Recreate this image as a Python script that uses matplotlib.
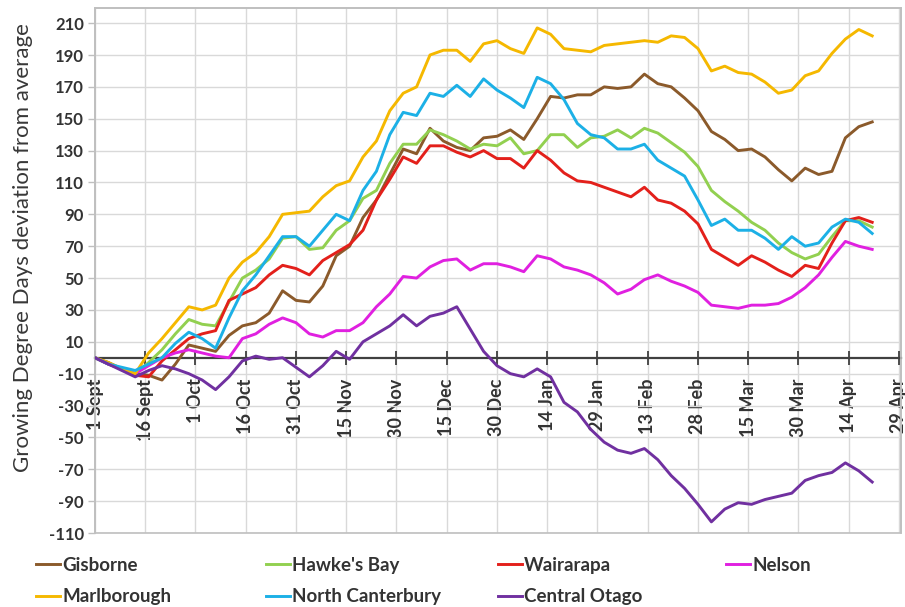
import matplotlib
matplotlib.use("Agg")
import matplotlib.pyplot as plt
from matplotlib.patches import Rectangle
import numpy as np

plt.rcParams['font.family'] = ['Lato', 'DejaVu Sans']

# days since 1 September
days = list(range(0, 233, 4))

gisborne = [0, -3, -7, -10, -11, -14, -4, 8, 6, 4, 14, 20, 22, 28, 42, 36, 35, 45, 64, 70,
            88, 99, 115, 131, 128, 144, 136, 132, 130, 138, 139, 143, 137, 150, 164, 163, 165, 165, 170, 169,
            170, 178, 172, 170, 163, 155, 142, 137, 130, 131, 126, 118, 111, 119, 115, 117, 138, 145, 148]
hawkes_bay = [0, -4, -7, -10, -3, 5, 15, 24, 21, 20, 35, 50, 55, 62, 75, 76, 68, 69, 80, 86,
              100, 105, 122, 134, 134, 143, 140, 136, 131, 134, 133, 138, 128, 130, 140, 140, 132, 138, 139, 143,
              138, 144, 141, 135, 129, 120, 105, 98, 92, 85, 80, 72, 66, 62, 65, 76, 86, 86, 82]
wairarapa = [0, -4, -7, -11, -12, -2, 5, 12, 15, 17, 36, 40, 44, 52, 58, 56, 52, 61, 66, 71,
             80, 99, 112, 126, 122, 133, 133, 129, 126, 130, 125, 125, 119, 130, 124, 116, 111, 110, 107, 104,
             101, 107, 99, 97, 92, 84, 68, 63, 58, 64, 60, 55, 51, 58, 56, 72, 86, 88, 85]
nelson = [0, -4, -7, -10, -5, 0, 3, 5, 3, 1, 0, 12, 15, 21, 25, 22, 15, 13, 17, 17,
          22, 32, 40, 51, 50, 57, 61, 62, 55, 59, 59, 57, 54, 64, 62, 57, 55, 52, 47, 40,
          43, 49, 52, 48, 45, 41, 33, 32, 31, 33, 33, 34, 38, 44, 52, 63, 73, 70, 68]
marlborough = [0, -3, -7, -10, 3, 12, 22, 32, 30, 33, 50, 60, 66, 76, 90, 91, 92, 101, 108, 111,
               126, 136, 155, 166, 170, 190, 193, 193, 186, 197, 199, 194, 191, 207, 203, 194, 193, 192, 196, 197,
               198, 199, 198, 202, 201, 194, 180, 183, 179, 178, 173, 166, 168, 177, 180, 191, 200, 206, 202]
north_canterbury = [0, -4, -6, -8, -4, 0, 9, 16, 12, 6, 25, 42, 52, 64, 76, 76, 70, 80, 90, 86,
                    105, 117, 140, 154, 152, 166, 164, 171, 164, 175, 168, 163, 157, 176, 172, 162, 147, 140, 138, 131,
                    131, 134, 124, 119, 114, 99, 83, 87, 80, 80, 75, 68, 76, 70, 72, 82, 87, 85, 78]
central_otago = [0, -4, -8, -12, -8, -5, -7, -10, -14, -20, -12, -2, 1, -1, 0, -6, -12, -5, 4, -1,
                 10, 15, 20, 27, 20, 26, 28, 32, 18, 4, -5, -10, -12, -7, -12, -28, -34, -45, -53, -58,
                 -60, -57, -64, -74, -82, -92, -103, -95, -91, -92, -89, -87, -85, -77, -74, -72, -66, -71, -78]

series_names = ["Gisborne", "Hawke's Bay", "Wairarapa", "Nelson",
                "Marlborough", "North Canterbury", "Central Otago"]
series_values = [gisborne, hawkes_bay, wairarapa, nelson,
                 marlborough, north_canterbury, central_otago]
series_colors = ["#8B5A2B", "#92D050", "#E3201B", "#E020E0",
                 "#F5B800", "#1CB0E6", "#7030A0"]

tick_days = list(range(0, 241, 15))
tick_labels = ["1 Sept", "16 Sept", "1 Oct", "16 Oct", "31 Oct", "15 Nov", "30 Nov",
               "15 Dec", "30 Dec", "14 Jan", "29 Jan", "13 Feb", "28 Feb", "15 Mar",
               "30 Mar", "14 Apr", "29 Apr"]
y_ticks = list(range(-110, 211, 20))

fig = plt.figure(figsize=(9.05, 6.07), dpi=100)
ax = fig.add_axes([95 / 905, 1 - 533 / 607, (901 - 95) / 905, (533 - 8) / 607])

# spines first (positioning a spine resets its ticks)
for s in ['top', 'right', 'left']:
    ax.spines[s].set_color('#BFBFBF')
    ax.spines[s].set_linewidth(1.2)
ax.spines['bottom'].set_position(('data', 0))
ax.spines['bottom'].set_color('#404040')
ax.spines['bottom'].set_linewidth(1.6)
ax.spines['bottom'].set_zorder(2)
ax.add_patch(Rectangle((0, 0), 1, 1, transform=ax.transAxes, fill=False,
                       edgecolor='#BFBFBF', lw=1.2, clip_on=False, zorder=1))

lines = {}
for name, vals, col in zip(series_names, series_values, series_colors):
    ln, = ax.plot(days, vals, color=col, lw=2.1, label=name, zorder=3)
    lines[name] = ln

ax.set_xlim(0, 240.6)
ax.set_ylim(-110, 219.5)

ax.tick_params(axis='x', direction='inout', length=10, width=1.3, color='#404040', pad=10)
ax.tick_params(axis='y', direction='out', length=5, width=1.0, color='#BFBFBF', pad=3)

ax.set_yticks(y_ticks)
ax.set_xticks(tick_days)
ax.set_xticklabels(tick_labels, rotation=90, fontsize=13, fontweight='bold', color='#333333')
ax.set_yticklabels([str(v) for v in y_ticks], fontsize=12, fontweight='bold', color='#333333')

ax.grid(True, color='#D9D9D9', lw=1.0, zorder=0)
ax.set_axisbelow(True)

ax.set_ylabel("Growing Degree Days deviation from average", fontsize=16, fontweight='normal',
              color='#383838')
ax.yaxis.set_label_coords(-0.077, 0.543)

# legends in four columns
cols = [["Gisborne", "Marlborough"], ["Hawke's Bay", "North Canterbury"],
        ["Wairarapa", "Central Otago"], ["Nelson"]]
col_x = [36, 266, 498, 726]
for names, xp in zip(cols, col_x):
    leg = fig.legend([lines[n] for n in names], names, loc='upper left',
                     bbox_to_anchor=(xp / 905, 1 - 557 / 607), frameon=False,
                     prop={'weight': 'bold', 'size': 13.5}, handlelength=1.3,
                     handletextpad=0.1, labelspacing=0.75, borderaxespad=0, borderpad=0)
    for t in leg.get_texts():
        t.set_color('#333333')

fig.savefig("out.png", dpi=100)
